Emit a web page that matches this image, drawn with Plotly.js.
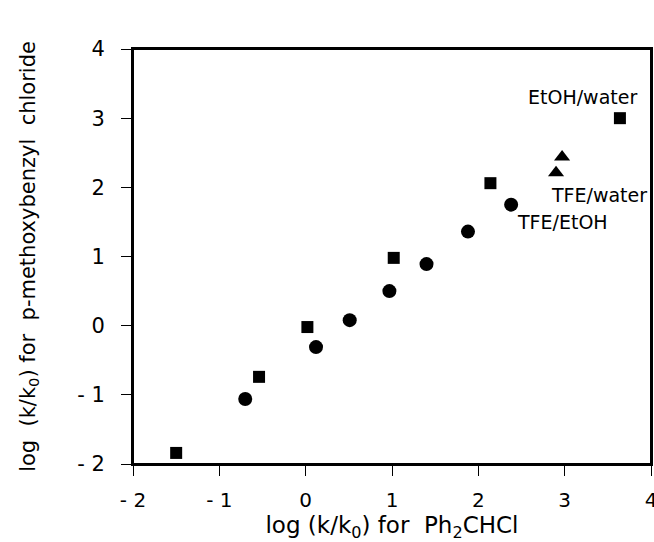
<!DOCTYPE html>
<html><head><meta charset="utf-8">
<script src="https://cdn.plot.ly/plotly-3.0.1.min.js"></script>
<style>html,body{margin:0;padding:0;background:#fff}#c{width:654px;height:542px}</style>
</head><body><div id="c"></div>
<script>
// EtOH/water (squares)
const sqX = [-1.50, -0.54, 0.02, 1.02, 2.14, 3.64];
const sqY = [-1.84, -0.74, -0.02, 0.98, 2.06, 3.00];
// TFE/EtOH (circles)
const ciX = [-0.70, 0.12, 0.51, 0.97, 1.40, 1.88, 2.38];
const ciY = [-1.06, -0.31, 0.08, 0.50, 0.89, 1.36, 1.75];
// TFE/water (triangles)
const trX = [2.90, 2.97];
const trY = [2.21, 2.44];
const tickVals = [-2, -1, 0, 1, 2, 3, 4];
const tickText = ['- 2', '- 1', '0', '1', '2', '3', '4'];
const labels = ['EtOH/water', 'TFE/water', 'TFE/EtOH'];
const labelX = [3.21, 3.40, 2.97];
const labelY = [3.31, 1.89, 1.50];

const font = 'DejaVu Sans, sans-serif';
const traces = [
  {x: sqX, y: sqY, mode: 'markers', type: 'scatter', marker: {symbol: 'square', size: 12, color: '#000'}},
  {x: ciX, y: ciY, mode: 'markers', type: 'scatter', marker: {symbol: 'circle', size: 14, color: '#000'}},
  {x: trX, y: trY, mode: 'markers', type: 'scatter', marker: {symbol: 'triangle-up', size: 14, color: '#000'}}
];
const ann = labels.map((t, i) => ({x: labelX[i], y: labelY[i], text: t, showarrow: false, xanchor: 'center', yanchor: 'middle', font: {family: font, size: 19, color: '#000'}}));
const axisCommon = {
  showgrid: false, zeroline: false, showline: true, linecolor: '#000', linewidth: 2, mirror: true,
  ticks: 'outside', ticklen: 10, tickwidth: 1, tickcolor: '#000', ticklabeloverflow: 'allow',
  tickvals: tickVals, ticktext: tickText
};
const layout = {
  width: 654, height: 542, showlegend: false,
  paper_bgcolor: '#fff', plot_bgcolor: '#fff',
  margin: {l: 133, r: 3, t: 49, b: 78},
  xaxis: Object.assign({}, axisCommon, {range: [-2, 4], ticklabelstandoff: 7,
    tickfont: {family: font, size: 20, color: '#000'},
    title: {text: 'log (k/k<sub>0</sub>) for  Ph<sub>2</sub>CHCl', font: {family: font, size: 23, color: '#000'}, standoff: 2}}),
  yaxis: Object.assign({}, axisCommon, {range: [-2, 4], ticklabelstandoff: 12,
    tickfont: {family: font, size: 21, color: '#000'},
    title: {text: 'log  (k/k<sub>0</sub>) for  p-methoxybenzyl  chloride', font: {family: font, size: 21, color: '#000'}, standoff: 36}}),
  shapes: [{type: 'rect', xref: 'paper', yref: 'paper', x0: 0, x1: 1, y0: 0, y1: 1, line: {color: '#000', width: 2}, layer: 'above'}],
  annotations: ann
};
Plotly.newPlot('c', traces, layout, {displayModeBar: false, staticPlot: true});
</script></body></html>
